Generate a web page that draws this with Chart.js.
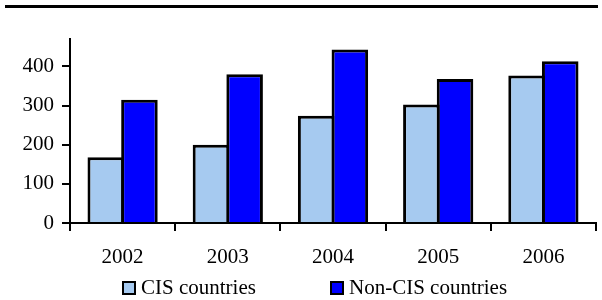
<!DOCTYPE html>
<html>
<head>
<meta charset="utf-8">
<script src="https://cdn.jsdelivr.net/npm/chart.js@4/dist/chart.umd.min.js"></script>
<style>
  body { margin: 0; background: #fff; }
  #wrap { position: relative; width: 602px; height: 300px; }
  #rule { position: absolute; left: 5px; top: 5px; width: 593px; height: 3px; background: #000; }
  #chart { position: absolute; left: 0; top: 0; }
  #legend { position: absolute; left: 0; top: 277px; width: 602px; height: 23px; font: 21px "Liberation Serif", "Times New Roman", serif; line-height: 21px; }
  .item { position: absolute; top: 0; white-space: nowrap; }
  .box { display: inline-block; width: 10px; height: 10px; border: 2px solid #000; margin-right: 5px; vertical-align: -1px; }
</style>
</head>
<body>
<div id="wrap">
  <div id="rule"></div>
  <canvas id="chart" width="602" height="300"></canvas>
  <div id="legend"></div>
</div>
<script>
const years = ['2002', '2003', '2004', '2005', '2006']
const cisCountries = [168, 200, 274, 303, 377]
const nonCisCountries = [315, 380, 443, 368, 413]
const yTicks = [0, 100, 200, 300, 400]
const seriesNames = ['CIS countries', 'Non-CIS countries']
const seriesColors = ['#A6CAF0', '#0000FF']

const serif = '"Liberation Serif", "Times New Roman", serif'

// same look for both series; bars overlap slightly so the middle border is shared
const barStyle = {
  borderColor: '#000000',
  borderWidth: 3,
  borderSkipped: 'start',
  inflateAmount: 0,
  categoryPercentage: 0.64,
  barPercentage: 1.086
}

const chart = new Chart(document.getElementById('chart').getContext('2d'), {
  type: 'bar',
  data: {
    labels: years,
    datasets: [
      { label: seriesNames[0], data: cisCountries, backgroundColor: seriesColors[0], ...barStyle },
      { label: seriesNames[1], data: nonCisCountries, backgroundColor: seriesColors[1], ...barStyle }
    ]
  },
  options: {
    responsive: false,
    animation: false,
    layout: { padding: { left: 0, right: 6, top: 39, bottom: 0 } },
    plugins: {
      legend: { display: false },
      tooltip: { enabled: false }
    },
    scales: {
      x: {
        afterFit: s => { s.height = 77 },
        grid: { display: true, drawOnChartArea: false, drawTicks: true, tickLength: 8, color: '#000', lineWidth: 2, offset: true },
        border: { color: '#000', width: 2 },
        ticks: { color: '#000', font: { family: serif, size: 21 }, padding: 14 }
      },
      y: {
        min: 0,
        max: 470,
        afterFit: s => { s.width = 70 },
        afterBuildTicks: s => { s.ticks = yTicks.map(v => ({ value: v })) },
        grid: { display: true, drawOnChartArea: false, drawTicks: true, tickLength: 8, color: '#000', lineWidth: 2 },
        border: { color: '#000', width: 2 },
        ticks: { color: '#000', font: { family: serif, size: 21 }, padding: 8 }
      }
    }
  }
})

// legend built from the datasets
const legend = document.getElementById('legend')
const itemLeft = [122, 330]
chart.data.datasets.forEach((ds, i) => {
  const item = document.createElement('div')
  item.className = 'item'
  item.style.left = itemLeft[i] + 'px'
  item.innerHTML = `<span class="box" style="background:${ds.backgroundColor}"></span>${ds.label}`
  legend.appendChild(item)
})
</script>
</body>
</html>
